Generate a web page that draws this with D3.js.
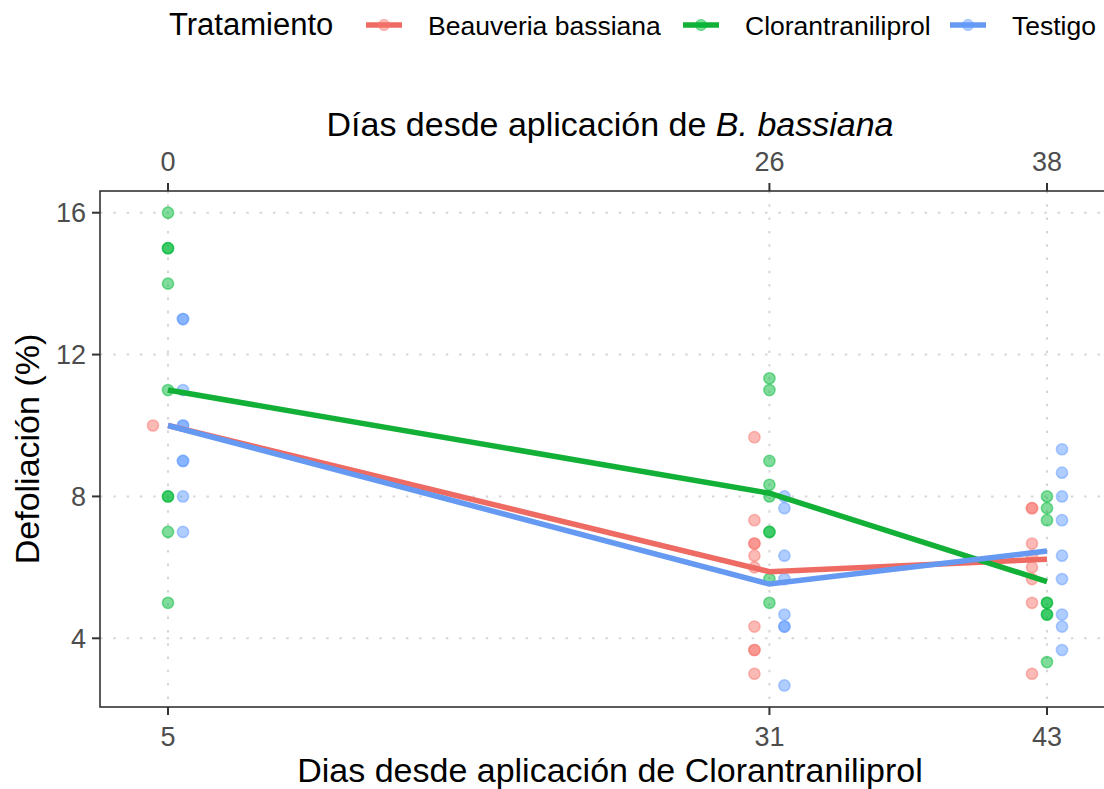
<!DOCTYPE html>
<html>
<head>
<meta charset="utf-8">
<script src="https://cdn.jsdelivr.net/npm/d3@7"></script>
<style>
  body { margin: 0; background: #fff; }
  text { font-family: "Liberation Sans", Arial, sans-serif; }
</style>
</head>
<body>
<div class="chart"></div>
<script>
// datos
var tratamientos = ["Beauveria bassiana", "Clorantraniliprol", "Testigo"];
var diasClor = [5, 31, 43];
var diasBeau = ["0", "26", "38"];
var yTicks = [4, 8, 12, 16];

// defoliacion por planta en cada fecha
var beauveria = [
  [10],
  [9.67, 7.33, 6.67, 6.67, 6.33, 6, 4.33, 3.67, 3.67, 3],
  [7.67, 7.67, 6.67, 6.33, 6, 5.67, 5, 3]
];
var clorantraniliprol = [
  [16, 15, 15, 14, 11, 8, 8, 7, 5],
  [11.33, 11, 9, 8.33, 8, 7, 7, 5.67, 5],
  [8, 7.67, 7.33, 5, 5, 4.67, 4.67, 3.33]
];
var testigo = [
  [13, 13, 11, 10, 10, 9, 9, 8, 7],
  [8, 7.67, 6.33, 5.67, 4.67, 4.33, 4.33, 2.67],
  [9.33, 8.67, 8, 7.33, 6.33, 5.67, 4.67, 4.33, 3.67]
];
// medias (lineas)
var mediaBeauveria = [10, 5.88, 6.23];
var mediaClor = [11, 8.09, 5.6];
var mediaTestigo = [10, 5.53, 6.46];

var width = 1104, height = 789;
var svg = d3.select(".chart").append("svg")
  .attr("width", width).attr("height", height);

var panel = {left: 100, right: 1120, top: 191, bottom: 707};
var x = d3.scaleLinear().domain([5, 43]).range([168, 1047]);
var y = d3.scaleLinear().domain([4, 16]).range([638.3, 212.7]);
var colors = d3.scaleOrdinal().domain(tratamientos).range(["#F8766D", "#00BA38", "#619CFF"]);
var lineColors = d3.scaleOrdinal().domain(tratamientos).range(["#EE6B63", "#12B036", "#6599F2"]);
var dodge = d3.scalePoint().domain(tratamientos).range([-15, 15]);

var series = [
  {name: tratamientos[0], puntos: beauveria, media: mediaBeauveria},
  {name: tratamientos[1], puntos: clorantraniliprol, media: mediaClor},
  {name: tratamientos[2], puntos: testigo, media: mediaTestigo}
];

// grid
var grid = svg.append("g");
grid.selectAll("line.gy").data(yTicks).enter().append("line")
  .attr("x1", panel.left).attr("x2", panel.right)
  .attr("y1", function(d){ return y(d); }).attr("y2", function(d){ return y(d); })
  .attr("stroke", "#d6d6d6").attr("stroke-width", 2).attr("stroke-dasharray", "2.5,10.8");
grid.selectAll("line.gx").data(diasClor).enter().append("line")
  .attr("y1", panel.top).attr("y2", panel.bottom)
  .attr("x1", function(d){ return x(d); }).attr("x2", function(d){ return x(d); })
  .attr("stroke", "#d6d6d6").attr("stroke-width", 2).attr("stroke-dasharray", "2.5,10.8");

// puntos
var pts = [];
series.forEach(function(s){
  s.puntos.forEach(function(vals, i){
    vals.forEach(function(v){ pts.push({name: s.name, dia: diasClor[i], v: v}); });
  });
});
svg.append("g").selectAll("circle").data(pts).enter().append("circle")
  .attr("cx", function(d){ return x(d.dia) + dodge(d.name); })
  .attr("cy", function(d){ return y(d.v); })
  .attr("r", 5.6)
  .attr("fill", function(d){ return colors(d.name); }).attr("fill-opacity", 0.5)
  .attr("stroke", function(d){ return colors(d.name); }).attr("stroke-opacity", 0.5)
  .attr("stroke-width", 1.5);

// lineas de medias
var line = d3.line().x(function(d, i){ return x(diasClor[i]); }).y(function(d){ return y(d); });
svg.append("g").selectAll("path").data(series).enter().append("path")
  .attr("d", function(d){ return line(d.media); })
  .attr("fill", "none").attr("stroke", function(d){ return lineColors(d.name); })
  .attr("stroke-width", 5.5);

// borde del panel
svg.append("rect").attr("x", panel.left).attr("y", panel.top)
  .attr("width", panel.right - panel.left).attr("height", panel.bottom - panel.top)
  .attr("fill", "none").attr("stroke", "#333333").attr("stroke-width", 1.6);

// ejes
var tickCol = "#333333", labCol = "#4D4D4D", tickSize = 27;
var axBottom = svg.append("g");
axBottom.selectAll("line").data(diasClor).enter().append("line")
  .attr("x1", function(d){ return x(d); }).attr("x2", function(d){ return x(d); })
  .attr("y1", panel.bottom).attr("y2", panel.bottom + 8)
  .attr("stroke", tickCol).attr("stroke-width", 2);
axBottom.selectAll("text").data(diasClor).enter().append("text")
  .attr("x", function(d){ return x(d); }).attr("y", 746)
  .attr("text-anchor", "middle").attr("font-size", tickSize).attr("fill", labCol)
  .text(function(d){ return d; });

var axTop = svg.append("g");
axTop.selectAll("line").data(diasClor).enter().append("line")
  .attr("x1", function(d){ return x(d); }).attr("x2", function(d){ return x(d); })
  .attr("y1", panel.top).attr("y2", panel.top - 8)
  .attr("stroke", tickCol).attr("stroke-width", 2);
axTop.selectAll("text").data(diasClor).enter().append("text")
  .attr("x", function(d){ return x(d); }).attr("y", 171)
  .attr("text-anchor", "middle").attr("font-size", tickSize).attr("fill", labCol)
  .text(function(d, i){ return diasBeau[i]; });

var axLeft = svg.append("g");
axLeft.selectAll("line").data(yTicks).enter().append("line")
  .attr("x1", panel.left).attr("x2", panel.left - 8)
  .attr("y1", function(d){ return y(d); }).attr("y2", function(d){ return y(d); })
  .attr("stroke", tickCol).attr("stroke-width", 2);
axLeft.selectAll("text").data(yTicks).enter().append("text")
  .attr("x", 86).attr("y", function(d){ return y(d) + 9.5; })
  .attr("text-anchor", "end").attr("font-size", tickSize).attr("fill", labCol)
  .text(function(d){ return d; });

// titulos
var titleSize = 34;
var t1 = svg.append("text").attr("x", 610).attr("y", 136)
  .attr("text-anchor", "middle").attr("font-size", titleSize).attr("fill", "#000");
t1.append("tspan").text("Días desde aplicación de ");
t1.append("tspan").attr("font-style", "italic").text("B. bassiana");

svg.append("text").attr("x", 610).attr("y", 782)
  .attr("text-anchor", "middle").attr("font-size", titleSize).attr("fill", "#000")
  .text("Dias desde aplicación de Clorantraniliprol");

svg.append("text").attr("transform", "translate(39,449) rotate(-90)")
  .attr("text-anchor", "middle").attr("font-size", titleSize).attr("fill", "#000")
  .text("Defoliación (%)");

// leyenda
svg.append("text").attr("x", 169).attr("y", 35).attr("font-size", 31).text("Tratamiento");
var keyX = [366, 683, 950];
var leg = svg.append("g").selectAll("g").data(tratamientos).enter().append("g")
  .attr("transform", function(d, i){ return "translate(" + keyX[i] + ",25)"; });
leg.append("line").attr("x1", 0).attr("x2", 36).attr("y1", 0).attr("y2", 0)
  .attr("stroke", function(d){ return lineColors(d); }).attr("stroke-width", 5.5);
leg.append("circle").attr("cx", 18).attr("cy", 0).attr("r", 5.6)
  .attr("fill", function(d){ return colors(d); }).attr("fill-opacity", 0.5)
  .attr("stroke", function(d){ return colors(d); }).attr("stroke-opacity", 0.5);
leg.append("text").attr("x", 62).attr("y", 9.5).attr("font-size", 26.5)
  .text(function(d){ return d; });
</script>
</body>
</html>
